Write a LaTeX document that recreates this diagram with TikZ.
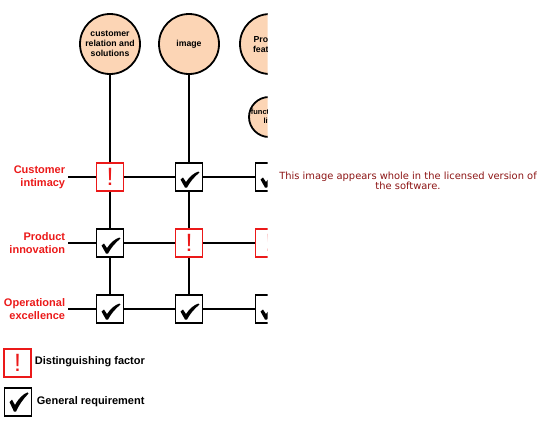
\documentclass[tikz,border=0pt]{standalone}
\usepackage{fontspec}
\setmainfont{Liberation Sans}
\newfontfamily\djv{DejaVu Sans}
\definecolor{peach}{RGB}{252,213,181}
\definecolor{markred}{RGB}{235,25,25}
\definecolor{wmred}{RGB}{140,20,20}
\begin{document}
\begin{tikzpicture}[x=1pt,y=-1pt,
  line width=1.8pt,
  topic/.style={circle,draw=black,fill=peach,line width=1.8pt,inner sep=0pt,align=center,font=\fontsize{8.7}{10}\selectfont\bfseries},
  chk/.style={draw=black,fill=white,minimum width=27pt,minimum height=28pt,inner sep=0pt,line width=1.8pt},
  exc/.style={draw=markred,fill=white,minimum width=27pt,minimum height=28pt,inner sep=0pt,line width=1.8pt,text=markred,font=\fontsize{25}{25}\selectfont},
  rowlab/.style={anchor=east,align=right,inner sep=0pt,text=markred,font=\fontsize{11}{13}\selectfont\bfseries},
  leglab/.style={anchor=west,inner sep=0pt,font=\fontsize{11}{12}\selectfont\bfseries},
  chkm/.pic={\fill[black,line width=0pt] (-8.5,2.5) -- (-6,0.5) -- (-3,5) .. controls (1,-1) and (5,-4) .. (9.5,-5.5) -- (10.5,-4.5) .. controls (5,0) and (1,5) .. (-2,10.5) -- (-4,10.5) -- cycle;}]
\useasboundingbox (0,0) rectangle (550,432);
\begin{scope}
\clip (0,0) rectangle (267.5,432);
% topic circles
\node[topic,minimum size=60pt] (c1) at (110,44) {customer\\relation and\\solutions};
\node[topic,minimum size=60pt] (c2) at (189,44) {image};
\node[topic,minimum size=60pt] (c3) at (270,44) {Product\\features};
\node[topic,minimum size=40pt,font=\fontsize{7.5}{9}\selectfont\bfseries] (c4) at (269,117) {functiona-\\lity};
% row anchors
\coordinate (r1) at (68,177);
\coordinate (r2) at (68,243);
\coordinate (r3) at (68,309);
\coordinate (r1e) at (290,177);
\coordinate (r2e) at (290,243);
\coordinate (r3e) at (290,309);
% boxes
\node[exc] (b11) at (110,177) {!};
\node[chk] (b12) at (189,177) {};
\node[chk] (b13) at (269,177) {};
\node[chk] (b21) at (110,243) {};
\node[exc] (b22) at (189,243) {!};
\node[exc] (b23) at (269,243) {!};
\node[chk] (b31) at (110,309) {};
\node[chk] (b32) at (189,309) {};
\node[chk] (b33) at (269,309) {};
% lines
\draw (r1) -- (b11) -- (b12) -- (b13) -- (r1e);
\draw (r2) -- (b21) -- (b22) -- (b23) -- (r2e);
\draw (r3) -- (b31) -- (b32) -- (b33) -- (r3e);
\draw (c1) -- (b11) -- (b21) -- (b31);
\draw (c2) -- (b12) -- (b22) -- (b32);
\draw (c4) -- (b13) -- (b23) -- (b33);
% check marks
\pic at (b12) {chkm};
\pic at (b13) {chkm};
\pic at (b21) {chkm};
\pic at (b31) {chkm};
\pic at (b32) {chkm};
\pic at (b33) {chkm};
\end{scope}
% row labels
\node[rowlab] (l1) at (66,177) {Customer\\intimacy};
\node[rowlab] (l2) at (66,243) {Product\\innovation};
\node[rowlab] (l3) at (66,309) {Operational\\excellence};
% legend
\node[exc] (le) at (17.5,363) {!};
\node[leglab] (lt1) at (34,362) {Distinguishing factor};
\node[chk] (lc) at (18,402) {};
\pic[yscale=1.2] at ([yshift=3pt]lc.center) {chkm};
\node[leglab] (lt2) at (36,402) {General requirement};
% watermark
\node[align=center,text=wmred,font=\djv\fontsize{9.9}{10.5}\selectfont] (wm) at (408,181) {This image appears whole in the licensed version of\\the software.};
\end{tikzpicture}
\end{document}
